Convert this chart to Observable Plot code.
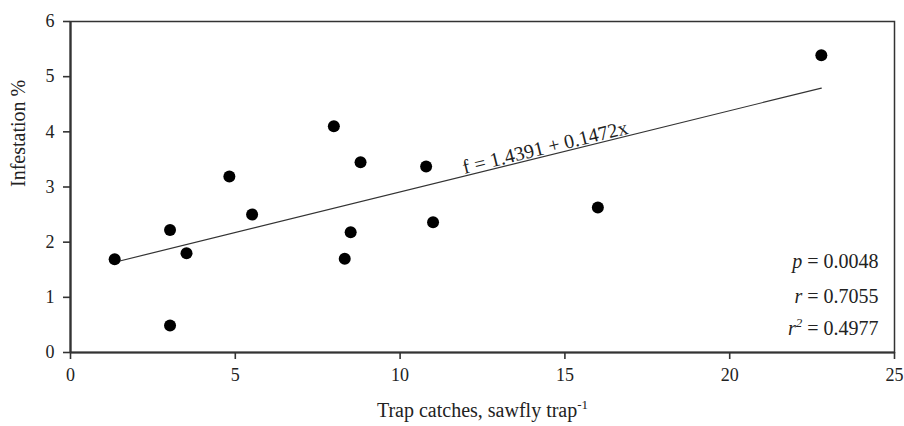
<!DOCTYPE html>
<html>
<head>
<meta charset="utf-8">
<script src="https://cdn.jsdelivr.net/npm/d3@7"></script>
<script src="https://cdn.jsdelivr.net/npm/@observablehq/plot@0.6"></script>
<style>
  html, body { margin: 0; padding: 0; background: #fff; }
</style>
</head>
<body>
<div id="chart"></div>
<script>
// Data
const trapCatches = [1.34, 3.02, 3.02, 3.52, 4.82, 5.51, 7.99, 8.32, 8.50, 8.80, 10.79, 11.00, 16.00, 22.78];
const infestation = [1.69, 2.22, 0.49, 1.80, 3.19, 2.50, 4.10, 1.70, 2.18, 3.45, 3.37, 2.36, 2.63, 5.39];
const xTicks = [0, 5, 10, 15, 20, 25];
const yTicks = [0, 1, 2, 3, 4, 5, 6];
const intercept = 1.4391;
const slope = 0.1472;
const equationLabel = "f = 1.4391 + 0.1472x";
const equationAtX = 14.45;
const statLabels = ["p = 0.0048", "r = 0.7055", "r2 = 0.4977"];
const xLabel = "Trap catches, sawfly trap";
const yLabel = "Infestation %";

const points = trapCatches.map((x, i) => ({x, y: infestation[i]}));
const [x0, x1] = d3.extent(trapCatches);
const fit = [x0, x1].map(x => ({x, y: intercept + slope * x}));

const W = 904, H = 426, mL = 70, mR = 10, mT = 21, mB = 74;
const pxPerX = (W - mL - mR) / 25, pxPerY = (H - mT - mB) / 6;
const angle = Math.atan(slope * pxPerY / pxPerX) * 180 / Math.PI;

const font = "'Liberation Serif', 'Times New Roman', Times, serif";
const ink = "#222";

const plot = Plot.plot({
  width: W, height: H,
  marginLeft: mL, marginRight: mR, marginTop: mT, marginBottom: mB,
  style: {fontFamily: font, fontSize: "17px", color: ink, background: "#fff", overflow: "visible"},
  x: {domain: [0, 25]},
  y: {domain: [0, 6]},
  marks: [
    Plot.frame({stroke: "#333", strokeWidth: 1.5}),
    Plot.ruleX([0], {stroke: "#333", strokeWidth: 2.2}),
    Plot.ruleY([0], {stroke: "#333", strokeWidth: 2.2}),
    Plot.axisX({ticks: xTicks, tickFormat: d3.format("d"), tickSize: 7, tickPadding: 9, strokeWidth: 1.6, stroke: "#333", label: null, fontSize: 18}),
    Plot.axisY({ticks: yTicks, tickFormat: d3.format("d"), tickSize: 7, tickPadding: 9, strokeWidth: 1.6, stroke: "#333", label: null, fontSize: 18}),
    Plot.line(fit, {x: "x", y: "y", stroke: "#333", strokeWidth: 1.2}),
    Plot.dot(points, {x: "x", y: "y", r: 6, fill: "#000", stroke: "none"}),
    Plot.text([equationLabel], {x: () => equationAtX, y: () => intercept + slope * equationAtX, text: d => d,
      rotate: -angle, lineAnchor: "bottom", dy: -2, fontSize: 20, fill: ink}),
    Plot.text([statLabels[0]], {frameAnchor: "bottom-right", dx: -16, dy: -85, textAnchor: "end", fontSize: 20, fill: ink}),
    Plot.text([statLabels[1]], {frameAnchor: "bottom-right", dx: -16, dy: -50, textAnchor: "end", fontSize: 20, fill: ink}),
    Plot.text([statLabels[2]], {frameAnchor: "bottom-right", dx: -16, dy: -18, textAnchor: "end", fontSize: 20, fill: ink}),
    Plot.text([xLabel], {frameAnchor: "bottom", dy: 64, fontSize: 20, fill: ink}),
    Plot.text([yLabel], {frameAnchor: "left", dx: -52, rotate: -90, fontSize: 20, fill: ink})
  ]
});

document.getElementById("chart").appendChild(plot);

// italic symbols and superscripts
const svg = d3.select(plot);
svg.selectAll("text").each(function() {
  const t = this.textContent;
  const sel = d3.select(this);
  if (statLabels.includes(t)) {
    sel.text(null);
    if (t.startsWith("r2")) {
      sel.append("tspan").attr("font-style", "italic").text("r");
      sel.append("tspan").attr("font-style", "italic").attr("font-size", 13).attr("dy", -8).text("2");
      sel.append("tspan").attr("dy", 8).text(t.slice(2));
    } else {
      sel.append("tspan").attr("font-style", "italic").text(t[0]);
      sel.append("tspan").text(t.slice(1));
    }
  } else if (t === xLabel) {
    sel.append("tspan").attr("font-size", 13).attr("dy", -8).text("-1");
  }
});
</script>
</body>
</html>
